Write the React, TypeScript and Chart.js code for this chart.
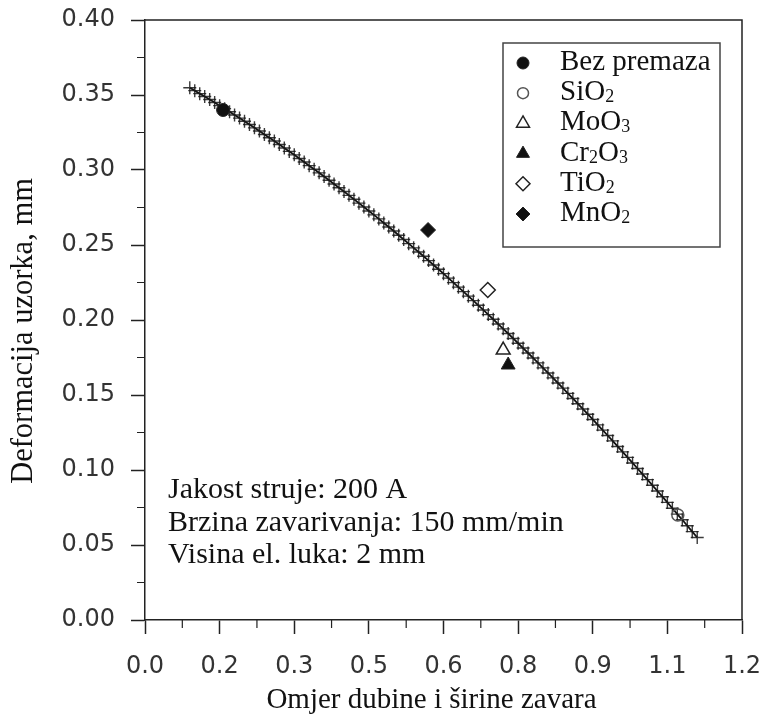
import React, { useEffect, useRef } from 'react';
import { Chart, registerables } from 'chart.js';
import { drawPoint } from 'chart.js/helpers';
Chart.register(...registerables);

// Fitted curve
const curveX = [
  0.09, 0.10, 0.11, 0.12, 0.13, 0.14, 0.15, 0.16, 0.17, 0.18, 0.19, 0.20, 0.21, 0.22, 0.23, 0.24, 0.25,
  0.26, 0.27, 0.28, 0.29, 0.30, 0.31, 0.32, 0.33, 0.34, 0.35, 0.36, 0.37, 0.38, 0.39, 0.40, 0.41, 0.42,
  0.43, 0.44, 0.45, 0.46, 0.47, 0.48, 0.49, 0.50, 0.51, 0.52, 0.53, 0.54, 0.55, 0.56, 0.57, 0.58, 0.59,
  0.60, 0.61, 0.62, 0.63, 0.64, 0.65, 0.66, 0.67, 0.68, 0.69, 0.70, 0.71, 0.72, 0.73, 0.74, 0.75, 0.76,
  0.77, 0.78, 0.79, 0.80, 0.81, 0.82, 0.83, 0.84, 0.85, 0.86, 0.87, 0.88, 0.89, 0.90, 0.91, 0.92, 0.93,
  0.94, 0.95, 0.96, 0.97, 0.98, 0.99, 1.00, 1.01, 1.02, 1.03, 1.04, 1.05, 1.06, 1.07, 1.08, 1.09, 1.10, 1.11,
];
const curveY = [
  0.3548, 0.3529, 0.3509, 0.3490, 0.3470, 0.3450, 0.3429, 0.3409, 0.3388, 0.3367, 0.3346, 0.3325, 0.3303,
  0.3281, 0.3260, 0.3237, 0.3215, 0.3193, 0.3170, 0.3147, 0.3124, 0.3101, 0.3077, 0.3053, 0.3029, 0.3005,
  0.2981, 0.2957, 0.2932, 0.2907, 0.2882, 0.2857, 0.2831, 0.2805, 0.2779, 0.2753, 0.2727, 0.2701, 0.2674,
  0.2647, 0.2620, 0.2593, 0.2565, 0.2537, 0.2509, 0.2481, 0.2453, 0.2425, 0.2396, 0.2367, 0.2338, 0.2309,
  0.2279, 0.2249, 0.2219, 0.2189, 0.2159, 0.2129, 0.2098, 0.2067, 0.2036, 0.2005, 0.1973, 0.1941, 0.1910,
  0.1877, 0.1845, 0.1813, 0.1780, 0.1747, 0.1714, 0.1681, 0.1647, 0.1614, 0.1580, 0.1546, 0.1511, 0.1477,
  0.1442, 0.1407, 0.1372, 0.1337, 0.1301, 0.1266, 0.1230, 0.1194, 0.1157, 0.1121, 0.1084, 0.1047, 0.1010,
  0.0973, 0.0936, 0.0898, 0.0860, 0.0822, 0.0784, 0.0745, 0.0706, 0.0668, 0.0628, 0.0589, 0.0550,
];

// Measured points
const seriesNames = ['Bez premaza', 'SiO2', 'MoO3', 'Cr2O3', 'TiO2', 'MnO2'];
const seriesX = [0.157, 1.071, 0.72, 0.73, 0.689, 0.569];
const seriesY = [0.34, 0.07, 0.18, 0.17, 0.22, 0.26];
const seriesStyle = ['circle', 'circle', 'triangle', 'triangle', 'rectRot', 'rectRot'];
const seriesFilled = [true, false, false, true, false, true];
const seriesRadius = [6.5, 6, 8, 8, 7.5, 7.5];

const xTickLabels = ['0.0', '0.2', '0.3', '0.5', '0.6', '0.8', '0.9', '1.1', '1.2'];
const yTickLabels = ['0.00', '0.05', '0.10', '0.15', '0.20', '0.25', '0.30', '0.35', '0.40'];
const xTitle = 'Omjer dubine i širine zavara';
const yTitle = 'Deformacija uzorka, mm';
const noteLines = ['Jakost struje: 200 A', 'Brzina zavarivanja: 150 mm/min', 'Visina el. luka: 2 mm'];

const SERIF = '"Liberation Serif", "Times New Roman", serif';
const SANS = '"DejaVu Sans", Verdana, sans-serif';
const AXIS = '#222';

function serifText(ctx: CanvasRenderingContext2D, text: string, x: number, y: number, size: number, sx: number, align: CanvasTextAlign) {
  ctx.save();
  ctx.translate(x, y);
  ctx.scale(sx, 1);
  ctx.font = `${size}px ${SERIF}`;
  ctx.textAlign = align;
  ctx.textBaseline = 'alphabetic';
  ctx.fillStyle = '#111';
  ctx.fillText(text, 0, 0);
  ctx.restore();
}

function chemText(ctx: CanvasRenderingContext2D, text: string, x: number, y: number, size: number) {
  // digits after a letter drawn as subscripts
  let cx = x;
  const parts = text.match(/(\d+|\D+)/g) || [];
  parts.forEach((p, i) => {
    const sub = /^\d+$/.test(p) && i > 0;
    const fs = sub ? size * 0.62 : size;
    ctx.font = `${fs}px ${SERIF}`;
    ctx.fillStyle = '#111';
    ctx.textAlign = 'left';
    ctx.textBaseline = 'alphabetic';
    ctx.fillText(p, cx, sub ? y + 2 : y);
    cx += ctx.measureText(p).width;
  });
}

const decorPlugin = {
  id: 'decor',
  afterDraw(chart: any) {
    const ctx: CanvasRenderingContext2D = chart.ctx;
    const { left, right, top, bottom } = chart.chartArea;
    const xs = chart.scales.x;
    const ys = chart.scales.y;
    ctx.save();
    // frame top/right
    ctx.strokeStyle = AXIS;
    ctx.lineWidth = 1.5;
    ctx.beginPath();
    ctx.moveTo(left, top);
    ctx.lineTo(right, top);
    ctx.lineTo(right, bottom);
    ctx.stroke();
    // minor ticks
    ctx.lineWidth = 1.2;
    ctx.beginPath();
    for (let i = 1; i < 16; i += 2) {
      const px = xs.getPixelForValue(i * 0.075);
      ctx.moveTo(px, bottom);
      ctx.lineTo(px, bottom + 8);
      const py = ys.getPixelForValue(i * 0.025);
      ctx.moveTo(left, py);
      ctx.lineTo(left - 8, py);
    }
    ctx.stroke();

    // axis titles
    serifText(ctx, xTitle, (left + right) / 2 - 12, bottom + 88, 29, 1, 'center');
    ctx.save();
    ctx.translate(left - 113, (top + bottom) / 2 + 11);
    ctx.rotate(-Math.PI / 2);
    serifText(ctx, yTitle, 0, 0, 30.5, 1, 'center');
    ctx.restore();

    // notes
    noteLines.forEach((t, i) => serifText(ctx, t, left + 23, bottom - 122 + i * 32.5, 30, 1, 'left'));

    // legend
    const bx = right - 239;
    const by = top + 23;
    ctx.strokeStyle = '#444';
    ctx.lineWidth = 1.5;
    ctx.strokeRect(bx, by, 217, 204);
    seriesNames.forEach((name, i) => {
      const ry = by + 20 + i * 30.2;
      ctx.save();
      ctx.fillStyle = seriesFilled[i] ? '#111' : 'rgba(0,0,0,0)';
      ctx.strokeStyle = i === 1 ? '#555' : '#222';
      ctx.lineWidth = seriesFilled[i] ? 1 : 1.5;
      drawPoint(ctx, { pointStyle: seriesStyle[i], radius: seriesRadius[i] - 0.5, rotation: 0, borderWidth: ctx.lineWidth } as any, bx + 20, ry);
      ctx.restore();
      chemText(ctx, name, bx + 57, ry + 7, 29);
    });
    ctx.restore();
  },
};

export default function App() {
  const ref = useRef<HTMLCanvasElement>(null);
  useEffect(() => {
    if (!ref.current) return;
    const pointSets = seriesNames.map((name, i) => ({
      label: name,
      data: [{ x: seriesX[i], y: seriesY[i] }],
      pointStyle: seriesStyle[i],
      pointRadius: seriesRadius[i],
      pointBackgroundColor: seriesFilled[i] ? '#111' : 'rgba(0,0,0,0)',
      pointBorderColor: i === 1 ? '#555' : '#222',
      pointBorderWidth: seriesFilled[i] ? 1 : 1.5,
      showLine: false,
    }));
    const chart = new Chart(ref.current, {
      type: 'scatter',
      data: {
        datasets: [
          ...pointSets,
          {
            label: 'fit',
            data: curveX.map((x, i) => ({ x, y: curveY[i] })),
            showLine: true,
            borderColor: '#111',
            borderWidth: 1.8,
            pointStyle: 'cross',
            pointRadius: 6.5,
            pointBorderColor: 'rgba(25,25,25,0.85)',
            pointBorderWidth: 1.4,
          } as any,
        ],
      },
      options: {
        animation: false,
        responsive: true,
        maintainAspectRatio: false,
        layout: { padding: { top: 20, right: 23, left: 0, bottom: 0 } },
        plugins: { legend: { display: false }, tooltip: { enabled: false } },
        scales: {
          x: {
            type: 'linear',
            min: 0,
            max: 1.2,
            afterBuildTicks: (s: any) => {
              s.ticks = Array.from({ length: 17 }, (_, i) => ({ value: i * 0.075 }));
            },
            afterFit: (s: any) => {
              s.height = 98;
              s.paddingLeft = 0;
              s.paddingRight = 0;
            },
            ticks: {
              autoSkip: false,
              maxRotation: 0,
              padding: 18,
              color: '#333',
              font: { family: SANS, size: 24 },
              callback: (_v: any, i: number) => (i % 2 === 0 ? xTickLabels[i / 2] : ''),
            },
            grid: {
              drawOnChartArea: false,
              tickLength: 14,
              tickWidth: 1.5,
              tickColor: (c: any) => (c.index % 2 === 0 ? AXIS : 'rgba(0,0,0,0)'),
            },
            border: { color: AXIS, width: 1.5 },
          },
          y: {
            type: 'linear',
            min: 0,
            max: 0.4,
            afterBuildTicks: (s: any) => {
              s.ticks = Array.from({ length: 17 }, (_, i) => ({ value: i * 0.025 }));
            },
            afterFit: (s: any) => {
              s.width = 145;
              s.paddingTop = 0;
              s.paddingBottom = 0;
            },
            ticks: {
              autoSkip: false,
              padding: 16,
              color: '#333',
              font: { family: SANS, size: 24 },
              callback: (_v: any, i: number) => (i % 2 === 0 ? yTickLabels[i / 2] : ''),
            },
            grid: {
              drawOnChartArea: false,
              tickLength: 14,
              tickWidth: 1.5,
              tickColor: (c: any) => (c.index % 2 === 0 ? AXIS : 'rgba(0,0,0,0)'),
            },
            border: { color: AXIS, width: 1.5 },
          },
        },
      },
      plugins: [decorPlugin],
    });
    return () => chart.destroy();
  }, []);
  return (
    <div style={{ position: 'fixed', left: 0, top: 0, width: 765, height: 718, background: '#fff' }}>
      <canvas ref={ref} />
    </div>
  );
}
